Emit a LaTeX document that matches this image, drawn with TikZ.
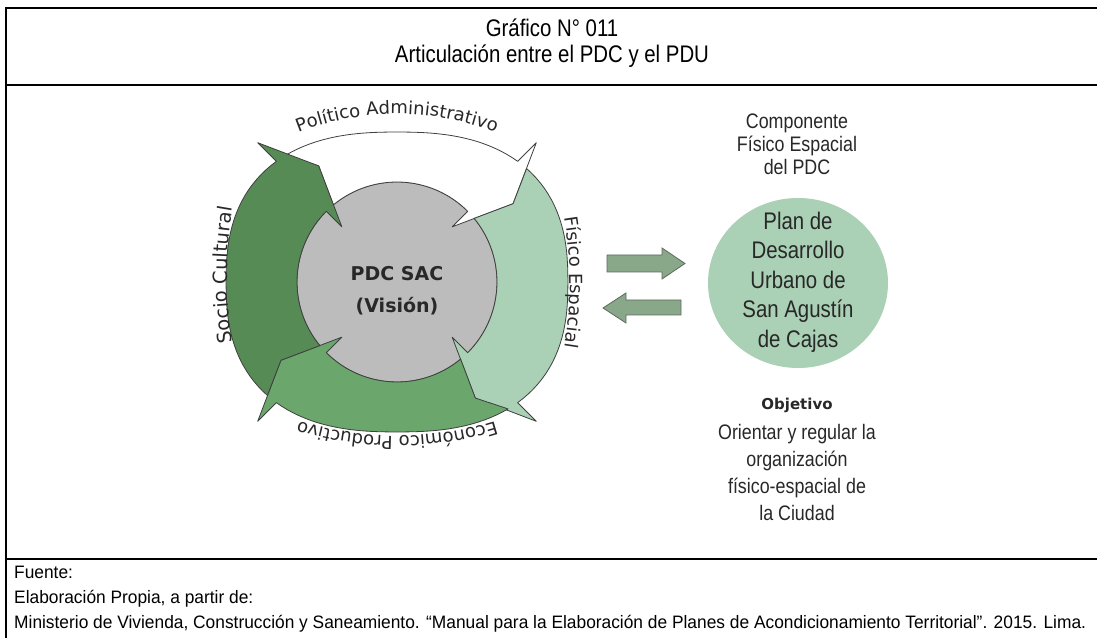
\documentclass[tikz,border=0pt]{standalone}
\usepackage{graphicx}
\usepackage{fontspec}
\setmainfont{Liberation Sans}
\newfontfamily\nar{Liberation Sans}[FakeStretch=0.85]
\newfontfamily\dvs{DejaVu Sans}
\usetikzlibrary{decorations.text,shapes.geometric}
\definecolor{lgr}{RGB}{170,208,181}
\definecolor{mgr}{RGB}{107,167,108}
\definecolor{dgr}{RGB}{86,139,85}
\definecolor{cgray}{RGB}{188,188,188}
\definecolor{oline}{RGB}{64,64,64}
\definecolor{dafill}{RGB}{137,168,137}
\definecolor{daline}{RGB}{95,105,95}
\definecolor{txt}{RGB}{40,40,40}
\newsavebox\minbox
\newcommand\ringfont{\dvs\fontsize{18bp}{18bp}\selectfont}
\newcommand\ringfontL{\dvs\fontsize{19.5bp}{19.5bp}\selectfont}
\newcommand\footf{\fontsize{18bp}{20bp}\selectfont}
\tikzset{
  frameline/.style={line width=2bp, black},
  ringarrowstyle/.style={draw=oline, line width=0.8bp, line join=round},
  blockarrow/.style={fill=dafill, draw=daline, line width=0.8bp, line join=miter},
  ringtext/.style={decorate, decoration={text along path, text align=center, text color=txt, text={|\ringfont|#1}}},
  ringtextL/.style={decorate, decoration={text along path, text align=center, text color=txt, text={|\ringfontL|#1}}},
}
\newcommand\ringarrow[2]{%
  \pgfmathsetmacro\aA{#1+79}%
  \pgfmathsetmacro\aB{#1+86.2}%
  \pgfmathsetmacro\aC{#1-11}%
  \pgfmathsetmacro\aD{#1+84.5}%
  \filldraw[ringarrowstyle, fill=#2] (\aA:140) -- (\aB:{ro(\aB)})
    -- plot[domain=\aB:#1, samples=40] (\x:{ro(\x)})
    -- (#1:197) -- (\aC:140) -- (#1:78) -- (#1:100)
    arc[start angle=#1, end angle=\aD, radius=100] -- cycle;}
\begin{document}
\sbox\minbox{\footf Ministerio de Vivienda, Construcción y Saneamiento. “Manual para la Elaboración de Planes de Acondicionamiento Territorial”. 2015. Lima.}%
\edef\mw{\the\wd\minbox}%
\pgfmathsetmacro\fs{1076/\mw}%
\begin{tikzpicture}[x=1bp,y=1bp,
  declare function={ro(\t)=171/(((abs(cos(\t))+0.0005)^2.5+(abs(1.14*sin(\t))+0.0005)^2.5)^0.4);}]
\useasboundingbox (0,0) rectangle (1097,638);
\fill[white] (0,0) rectangle (1097,638);
% frame
\draw[frameline, line join=miter] (6,0) |- (1097,630);
\draw[frameline] (6,553) -- (1097,553);
\draw[frameline] (6,79) -- (1097,79);
% title
\node[font=\nar\fontsize{24bp}{24bp}\selectfont, anchor=base] (t1) at (552,601) {Gráfico N° 011};
\node[font=\nar\fontsize{24bp}{24bp}\selectfont, anchor=base] (t2) at (552,575) {Articulación entre el PDC y el PDU};
% ring diagram
\begin{scope}[shift={(397,356)}]
  \filldraw[fill=cgray, draw=oline, line width=0.8bp] (0,0) circle[radius=100];
  \ringarrow{45}{white}
  \ringarrow{-45}{lgr}
  \ringarrow{-135}{mgr}
  \ringarrow{135}{dgr}
  \node[font=\dvs\bfseries\fontsize{19bp}{32bp}\selectfont, text=txt, align=center] (core) at (0,-9) {PDC SAC\\(Visión)};
  \path[ringtext={Político Administrativo}] plot[domain=120:60, samples=80] ({270*cos(\x)},{-102+270*sin(\x)});
  \path[ringtext={Físico Espacial}] plot[domain=22:-22, samples=80] ({-227+400*cos(\x)},{400*sin(\x)});
  \path[ringtext={Económico Productivo}] plot[domain=-65:-115, samples=80] ({330*cos(\x)},{176+330*sin(\x)});
  \path[ringtextL={Socio Cultural}] plot[domain=202:158, samples=80] ({230+400*cos(\x)},{7+400*sin(\x)});
\end{scope}
% double arrows
\filldraw[blockarrow] (607,383) -- (662,383) -- (662,390) -- (685,374.5) -- (662,359) -- (662,366) -- (607,366) -- cycle;
\filldraw[blockarrow] (681,338) -- (626,338) -- (626,345) -- (603,330) -- (626,315) -- (626,323) -- (681,323) -- cycle;
% right side
\node[font=\nar\fontsize{21bp}{23bp}\selectfont, text=txt, align=center] (comp) at (797,494) {Componente\\Físico Espacial\\del PDC};
\node[ellipse, fill=lgr, minimum width=180bp, minimum height=170bp, inner sep=0] (pdu) at (798,355) {};
\node[font=\nar\fontsize{24bp}{29.5bp}\selectfont, text=txt, align=center] (pdutxt) at (798,356) {Plan de\\Desarrollo\\Urbano de\\San Agustín\\de Cajas};
\node[font=\dvs\bfseries\fontsize{15bp}{15bp}\selectfont, text=txt] (obj) at (797,233) {Objetivo};
\node[font=\nar\fontsize{21bp}{27bp}\selectfont, text=txt, align=center] (objtxt) at (797,165.5) {Orientar y regular la\\organización\\físico-espacial de\\la Ciudad};
% footer
\node[anchor=base west, inner sep=0] (src1) at (14,59) {\scalebox{\fs}[1]{\footf Fuente:}};
\node[anchor=base west, inner sep=0] (src2) at (14,34) {\scalebox{\fs}[1]{\footf Elaboración Propia, a partir de:}};
\node[anchor=base west, inner sep=0] (src3) at (14,9) {\scalebox{\fs}[1]{\usebox\minbox}};
\end{tikzpicture}
\end{document}
